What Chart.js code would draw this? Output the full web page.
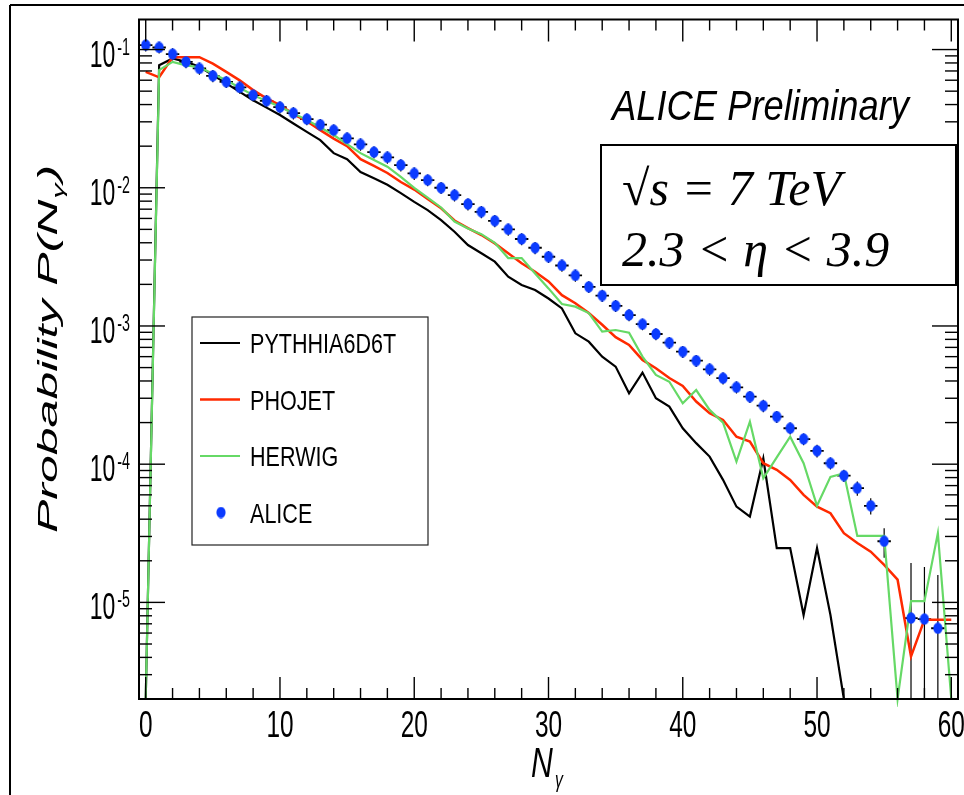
<!DOCTYPE html>
<html>
<head>
<meta charset="utf-8">
<script src="https://cdn.jsdelivr.net/npm/chart.js@4.4.1/dist/chart.umd.min.js"></script>
<style>
  body { margin: 0; background: #fff; }
</style>
</head>
<body>
<canvas id="multChart" width="964" height="795"></canvas>
<script>
/**
 * Photon multiplicity distribution, 2.3 < eta < 3.9
 */

var nGamma = [0, 1, 2, 3, 4, 5, 6, 7, 8, 9,
    10, 11, 12, 13, 14, 15, 16, 17, 18, 19,
    20, 21, 22, 23, 24, 25, 26, 27, 28, 29,
    30, 31, 32, 33, 34, 35, 36, 37, 38, 39,
    40, 41, 42, 43, 44, 45, 46, 47, 48, 49,
    50, 51, 52, 53, 54, 55, 56, 57, 58, 59, 60];

var pythia = [0, 0.077, 0.0863, 0.0815, 0.075, 0.0653, 0.0569, 0.0494, 0.043, 0.038,
    0.0336, 0.0292, 0.0254, 0.0221, 0.0178, 0.0161, 0.013, 0.0117, 0.0105, 0.00915,
    0.0079, 0.0069, 0.00584, 0.00481, 0.00385, 0.00336, 0.00292, 0.00227, 0.00198, 0.00182,
    0.00158, 0.00134, 0.000885, 0.00077, 0.0006, 0.000508, 0.000326, 0.00046, 0.0003, 0.000261,
    0.000182, 0.000142, 0.0001135, 0.000077, 0.0000493, 0.0000418, 0.00011, 0.0000247, 0.0000247, 0.0000081,
    0.0000247, 0.0000081, 0, 0, 0, 0, 0, 0, 0, 0, 0];

var phojet = [0.069, 0.063, 0.088, 0.088, 0.088, 0.079, 0.069, 0.0599, 0.0509, 0.0443,
    0.0396, 0.0341, 0.0303, 0.0261, 0.0227, 0.02, 0.0161, 0.0144, 0.0128, 0.011,
    0.0097, 0.0083, 0.0071, 0.0058, 0.0051, 0.00455, 0.00396, 0.00336, 0.00284, 0.00247,
    0.0021, 0.00167, 0.00146, 0.00124, 0.00102, 0.00083, 0.00073, 0.000568, 0.000494, 0.00042,
    0.000368, 0.000284, 0.000234, 0.000209, 0.000158, 0.000146, 0.0001016, 0.000091, 0.000077, 0.00006,
    0.0000493, 0.0000442, 0.0000317, 0.0000269, 0.0000233, 0.0000187, 0.0000146, 0.00000406, 0.0000075, 0.0000075, 0.0000075];

var herwig = [0, 0.071, 0.0815, 0.0768, 0.0745, 0.0669, 0.0599, 0.053, 0.0468, 0.0424,
    0.0385, 0.0345, 0.031, 0.0273, 0.0241, 0.0207, 0.0178, 0.0159, 0.0142, 0.012,
    0.01, 0.0085, 0.0072, 0.0057, 0.00508, 0.00462, 0.004, 0.0031, 0.0031, 0.0024,
    0.00187, 0.00144, 0.00138, 0.00124, 0.00091, 0.000935, 0.000895, 0.0006, 0.000442, 0.000395,
    0.000276, 0.000344, 0.000247, 0.0002, 0.0001045, 0.000203, 0.000079, 0.000112, 0.000158, 0.0001016,
    0.00005, 0.000081, 0.000086, 0.0000303, 0.0000303, 0.0000303, 0, 0.0000102, 0.0000102, 0.0000317, 0];

var alice = [0.1077, 0.1035, 0.0927, 0.0815, 0.073, 0.0646, 0.0584, 0.0532, 0.0468, 0.0426,
    0.0383, 0.0347, 0.0314, 0.0286, 0.0261, 0.0228, 0.0206, 0.0181, 0.0166, 0.0146,
    0.0127, 0.01136, 0.01, 0.00885, 0.00762, 0.0067, 0.00577, 0.005, 0.00426, 0.00368,
    0.00317, 0.00274, 0.00232, 0.00192, 0.00166, 0.0014, 0.0012, 0.00103, 0.000875, 0.000757,
    0.000652, 0.000561, 0.000486, 0.000419, 0.00036, 0.000308, 0.000265, 0.000221, 0.000182, 0.000152,
    0.000125, 0.0001016, 0.0000827, 0.000067, 0.00005, 0.0000277, null, 0.0000077, 0.00000757, 0.0000065, null];

var aliceErr = [0.011, 0.01, 0.0093, 0.0082, 0.0073, 0.0065, 0.0058, 0.0053, 0.0047, 0.0043,
    0.0038, 0.0035, 0.0031, 0.0029, 0.0026, 0.0023, 0.0021, 0.0018, 0.0017, 0.0015,
    0.0013, 0.0011, 0.001, 0.00089, 0.00076, 0.00067, 0.00058, 0.0005, 0.00043, 0.00037,
    0.00032, 0.00027, 0.00023, 0.00019, 0.00017, 0.00014, 0.00012, 0.0001, 0.000088, 0.000076,
    0.000065, 0.000056, 0.000049, 0.000042, 0.000036, 0.000031, 0.000027, 0.000022, 0.000018, 0.000015,
    0.000013, 0.00001, 0.0000083, 0.0000078, 0.0000068, 0.0000067, null, 0.0000116, 0.0000105, 0.0000093, null];

var yTickExponents = [-1, -2, -3, -4, -5];
var xTickLabels = [0, 10, 20, 30, 40, 50, 60];

var X_MIN = -0.5, X_MAX = 60.5;
var Y_MIN = 2.0e-6, Y_MAX = 0.165;

var SANS = "'Liberation Sans', Arial, sans-serif";
var SERIF = "'Liberation Serif', 'Times New Roman', serif";

// empty bins sit on the bottom of the log axis
var toPoints = function(values) {
    var pts = [];
    for (var i = 0; i < nGamma.length; i++) {
        var v = values[i];
        if (v === null) continue;
        pts.push({ x: nGamma[i], y: v > 0 ? v : Y_MIN });
    }
    return pts;
};

// oval marker, a bit taller than wide
var makeMarker = function() {
    var c = document.createElement('canvas');
    c.width = 10;
    c.height = 12;
    var g = c.getContext('2d');
    g.fillStyle = '#0b3bff';
    g.beginPath();
    g.ellipse(5, 6, 4.6, 5.7, 0, 0, Math.PI * 2);
    g.fill();
    return c;
};
var marker = makeMarker();

var squeezeText = function(ctx, text, x, y, sx, font, align) {
    ctx.save();
    ctx.font = font;
    ctx.translate(x, y);
    ctx.scale(sx, 1);
    ctx.textAlign = align || 'left';
    ctx.textBaseline = 'alphabetic';
    ctx.fillText(text, 0, 0);
    ctx.restore();
};

var textWidth = function(ctx, text, font, sx) {
    ctx.save();
    ctx.font = font;
    var w = ctx.measureText(text).width * sx;
    ctx.restore();
    return w;
};

var line = function(ctx, x1, y1, x2, y2) {
    ctx.beginPath();
    ctx.moveTo(x1, y1);
    ctx.lineTo(x2, y2);
    ctx.stroke();
};

/**
 * Error bars for the data points (bin width and vertical error)
 */

var drawErrorBars = function(chart) {
    var ctx = chart.ctx, xs = chart.scales.x, ys = chart.scales.y, a = chart.chartArea;
    ctx.save();
    ctx.beginPath();
    ctx.rect(a.left, a.top, a.right - a.left, a.bottom - a.top);
    ctx.clip();
    ctx.strokeStyle = '#000';
    for (var i = 0; i < alice.length; i++) {
        var v = alice[i];
        if (v === null) continue;
        var n = nGamma[i];
        var px = xs.getPixelForValue(n);
        var py = ys.getPixelForValue(v);
        ctx.lineWidth = 1.8;
        line(ctx, xs.getPixelForValue(n - 0.5), py, xs.getPixelForValue(n + 0.5), py);
        var lo = v - aliceErr[i];
        var pyLo = lo > 0 ? ys.getPixelForValue(lo) : a.bottom;
        ctx.lineWidth = 1.2;
        line(ctx, px, ys.getPixelForValue(v + aliceErr[i]), px, pyLo);
    }
    ctx.restore();
};

/**
 * Frame, inward ticks and tick labels
 */

var drawAxes = function(chart) {
    var ctx = chart.ctx, xs = chart.scales.x, ys = chart.scales.y, a = chart.chartArea;
    ctx.save();
    ctx.strokeStyle = '#000';
    ctx.fillStyle = '#000';

    // outer border of the figure
    ctx.lineWidth = 2;
    line(ctx, 10, 5, 10, 795);
    line(ctx, 10, 5, 964, 5);

    ctx.lineWidth = 2;
    ctx.strokeRect(a.left, a.top, a.right - a.left, a.bottom - a.top);

    ctx.lineWidth = 1.4;
    for (var t = 0; t <= 60; t += 2) {
        var px = xs.getPixelForValue(t);
        var len = t % 10 === 0 ? 22 : 11;
        line(ctx, px, a.bottom, px, a.bottom - len);
        line(ctx, px, a.top, px, a.top + len);
    }
    for (var e = -6; e <= -1; e++) {
        for (var m = 1; m <= 9; m++) {
            var v = m * Math.pow(10, e);
            if (v < Y_MIN || v > Y_MAX) continue;
            var py = ys.getPixelForValue(v);
            var l = m === 1 ? 26 : 13;
            line(ctx, a.left, py, a.left + l, py);
            line(ctx, a.right, py, a.right - l, py);
        }
    }

    // y labels: 10 with a raised exponent
    var bigFont = '37px ' + SANS, supFont = '23px ' + SANS, sx = 0.62;
    for (var k = 0; k < yTickExponents.length; k++) {
        var ex = yTickExponents[k];
        var yy = ys.getPixelForValue(Math.pow(10, ex));
        var sup = String(ex);
        var wSup = textWidth(ctx, sup, supFont, sx);
        squeezeText(ctx, sup, 130 - wSup, yy + 5, sx, supFont, 'left');
        squeezeText(ctx, '10', 130 - wSup - 2, yy + 17, sx, bigFont, 'right');
    }

    // x labels
    for (var j = 0; j < xTickLabels.length; j++) {
        var xv = xTickLabels[j];
        squeezeText(ctx, String(xv), xs.getPixelForValue(xv), 737, 0.66, bigFont, 'center');
    }

    // x title
    squeezeText(ctx, 'N', 531, 777, 0.72, 'italic 42px ' + SANS, 'left');
    squeezeText(ctx, 'γ', 555, 787, 0.72, 'italic 22px ' + SANS, 'left');

    // y title, rotated
    ctx.save();
    ctx.translate(57, 533);
    ctx.rotate(-Math.PI / 2);
    ctx.scale(1, 0.57);
    ctx.textAlign = 'left';
    ctx.textBaseline = 'alphabetic';
    ctx.font = 'italic 50px ' + SANS;
    var head = 'Probability P(N';
    ctx.fillText(head, 0, 0);
    var w1 = ctx.measureText(head).width;
    ctx.font = 'italic 30px ' + SANS;
    ctx.fillText('γ', w1 + 1, 12);
    var w2 = ctx.measureText('γ').width;
    ctx.font = 'italic 50px ' + SANS;
    ctx.fillText(')', w1 + w2 + 3, 0);
    ctx.restore();

    ctx.restore();
};

/**
 * Legend box and the text labels
 */

var drawLegend = function(chart) {
    var ctx = chart.ctx;
    ctx.save();
    ctx.fillStyle = '#fff';
    ctx.fillRect(192, 317, 236, 228);
    ctx.strokeStyle = '#222';
    ctx.lineWidth = 1.2;
    ctx.strokeRect(192, 317, 236, 228);

    var rows = [343, 399.5, 456, 512.5];
    var sets = chart.data.datasets;
    for (var i = 0; i < sets.length; i++) {
        var ds = sets[i];
        var ry = rows[i];
        if (ds.showLine === false) {
            ctx.drawImage(marker, 221 - marker.width / 2, ry - marker.height / 2);
        } else {
            ctx.strokeStyle = ds.borderColor;
            ctx.lineWidth = ds.borderWidth;
            line(ctx, 200, ry, 240, ry);
        }
        ctx.fillStyle = '#000';
        squeezeText(ctx, ds.label, 250, ry + 10, 0.77, '28px ' + SANS, 'left');
    }

    // experiment tag
    ctx.fillStyle = '#000';
    var tagFont = 'italic 42px ' + SANS;
    var tag = 'ALICE Preliminary';
    var tagScale = 297 / textWidth(ctx, tag, tagFont, 1);
    squeezeText(ctx, tag, 612, 120, tagScale, tagFont, 'left');

    // energy and acceptance box
    ctx.fillStyle = '#fff';
    ctx.fillRect(601, 145, 355, 140);
    ctx.strokeStyle = '#000';
    ctx.lineWidth = 2;
    ctx.strokeRect(601, 145, 355, 140);
    ctx.fillStyle = '#000';
    ctx.font = 'italic 50px ' + SERIF;
    ctx.textAlign = 'left';
    ctx.textBaseline = 'alphabetic';
    ctx.fillText('√s = 7 TeV', 622, 205);
    ctx.fillText('2.3 < η < 3.9', 622, 266);
    ctx.restore();
};

var rootStyle = {
    id: 'rootStyle',
    beforeDatasetsDraw: function(chart) {
        drawErrorBars(chart);
    },
    afterDraw: function(chart) {
        drawAxes(chart);
        drawLegend(chart);
    }
};

var ctx = document.getElementById('multChart').getContext('2d');
var chart = new Chart(ctx, {
    type: 'line',
    data: {
        datasets: [{
            label: 'PYTHHIA6D6T',
            data: toPoints(pythia),
            borderColor: '#000000',
            borderWidth: 2.2,
            pointRadius: 0,
            clip: { left: 0, top: 0, right: 0, bottom: 3 },
            order: 3
        }, {
            label: 'PHOJET',
            data: toPoints(phojet),
            borderColor: '#ff2a00',
            borderWidth: 2.5,
            pointRadius: 0,
            order: 2
        }, {
            label: 'HERWIG',
            data: toPoints(herwig),
            borderColor: '#66d966',
            borderWidth: 2.2,
            pointRadius: 0,
            clip: { left: 0, top: 0, right: 0, bottom: 8 },
            order: 1
        }, {
            label: 'ALICE',
            data: toPoints(alice),
            showLine: false,
            pointStyle: marker,
            pointRadius: 5,
            order: 0
        }]
    },
    options: {
        responsive: false,
        devicePixelRatio: 1,
        animation: false,
        events: [],
        layout: {
            padding: { left: 139, top: 19.5, right: 3, bottom: 96 }
        },
        plugins: {
            legend: { display: false },
            tooltip: { enabled: false }
        },
        elements: {
            line: { tension: 0 }
        },
        scales: {
            x: {
                type: 'linear',
                min: X_MIN,
                max: X_MAX,
                display: false
            },
            y: {
                type: 'logarithmic',
                min: Y_MIN,
                max: Y_MAX,
                display: false
            }
        }
    },
    plugins: [rootStyle]
});
</script>
</body>
</html>
